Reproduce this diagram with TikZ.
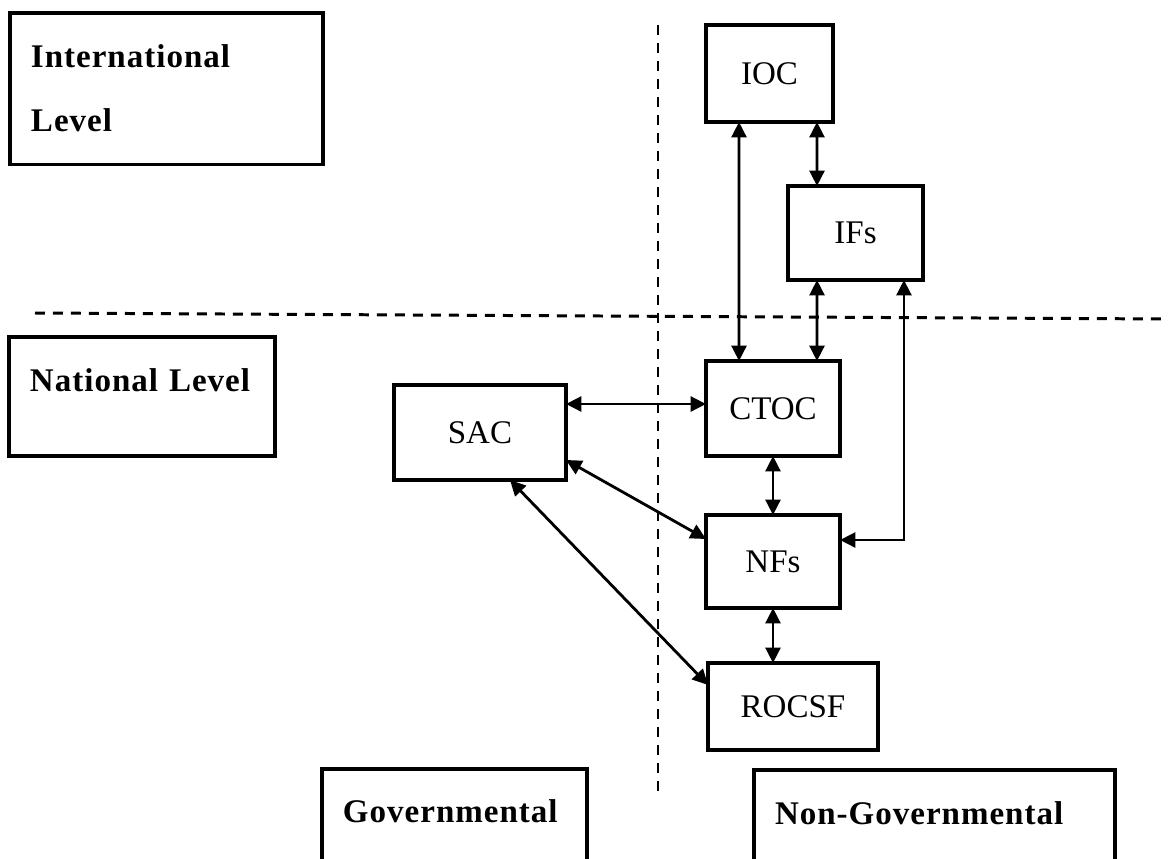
\documentclass[tikz,border=0pt]{standalone}
\usepackage{fontspec}
\setmainfont{Liberation Serif}
\usetikzlibrary{arrows.meta,calc}
\begin{document}
\begin{tikzpicture}[x=0.02cm,y=-0.02cm]
    \tikzstyle{darrow} = [{Triangle[length=0.31cm,width=0.3cm]}-{Triangle[length=0.31cm,width=0.3cm]},
        line width=1.6pt]
    \tikzstyle{divider} = [dash pattern=on 0.2cm off 0.16cm, line width=1.7pt]
    \tikzstyle{rec} = [rectangle, draw=black, line width=1.9pt, outer sep=0pt, align=center,
        font=\fontsize{18.8}{22}\selectfont]
    \tikzstyle{levelbox} = [rectangle, draw=black, line width=1.9pt, outer sep=0pt, align=left,
        inner xsep=0.42cm, inner ysep=0pt,
        font=\fontsize{18.8}{36.4}\selectfont\bfseries\addfontfeature{LetterSpace=3}]

    \useasboundingbox (0,0) rectangle (1171,859);
    \clip (0,0) rectangle (1171,859);

    \node(intl) [levelbox, text width=5.42cm, inner ysep=0.64cm, minimum height=3cm]
        at (10,13) [anchor=north west]
        {International\\Level};
    \node(natl) [levelbox, text width=4.48cm, text height=1.1cm, text depth=1.28cm]
        at (9,337) [anchor=north west]
        {National Level};
    \node(govt) [levelbox, text width=4.46cm, text height=1.08cm, text depth=2cm]
        at (322,769) [anchor=north west]
        {Governmental};
    \node(ngovt) [levelbox, text width=6.38cm, text height=1.1cm, text depth=2cm]
        at (754,770) [anchor=north west]
        {Non-Governmental};

    \node(ioc) [rec, minimum width=2.54cm, minimum height=1.94cm]
        at (769.5,73.5) {IOC};
    \node(ifs) [rec, minimum width=2.7cm, minimum height=1.88cm]
        at (855.5,233) {IFs};
    \node(ctoc) [rec, minimum width=2.68cm, minimum height=1.9cm]
        at (773,408.5) {CTOC};
    \node(sac) [rec, minimum width=3.44cm, minimum height=1.9cm]
        at (480,432.5) {SAC};
    \node(nfs) [rec, minimum width=2.68cm, minimum height=1.86cm]
        at (773,561.5) {NFs};
    \node(rocsf) [rec, minimum width=3.4cm, minimum height=1.74cm]
        at (793,706.5) {ROCSF};

    \draw[divider] (658,25) -- (658,792);
    \draw[divider] (35,313) -- (1168,319);

    \draw[darrow] ($(ioc.south west)+(33,0)$) -- ($(ctoc.north west)+(33,0)$);
    \draw[darrow] ($(ioc.south east)+(-16,0)$) -- ($(ifs.north west)+(29,0)$);
    \draw[darrow] ($(ifs.south west)+(29,0)$) -- ($(ctoc.north east)+(-23,0)$);
    \draw[darrow] ($(ifs.south east)+(-19,0)$) |- ($(nfs.north east)+(0,25)$);
    \draw[darrow] ($(sac.north east)+(0,19)$) -- ($(ctoc.north west)+(0,43)$);
    \draw[darrow] ($(sac.south east)+(0,-20)$) -- ($(nfs.north west)+(0,24)$);
    \draw[darrow] ($(sac.south)+(30,0)$) -- ($(rocsf.north west)+(0,22)$);
    \draw[darrow] (ctoc.south) -- (nfs.north);
    \draw[darrow] (nfs.south) -- (nfs.south |- rocsf.north);
\end{tikzpicture}
\end{document}
